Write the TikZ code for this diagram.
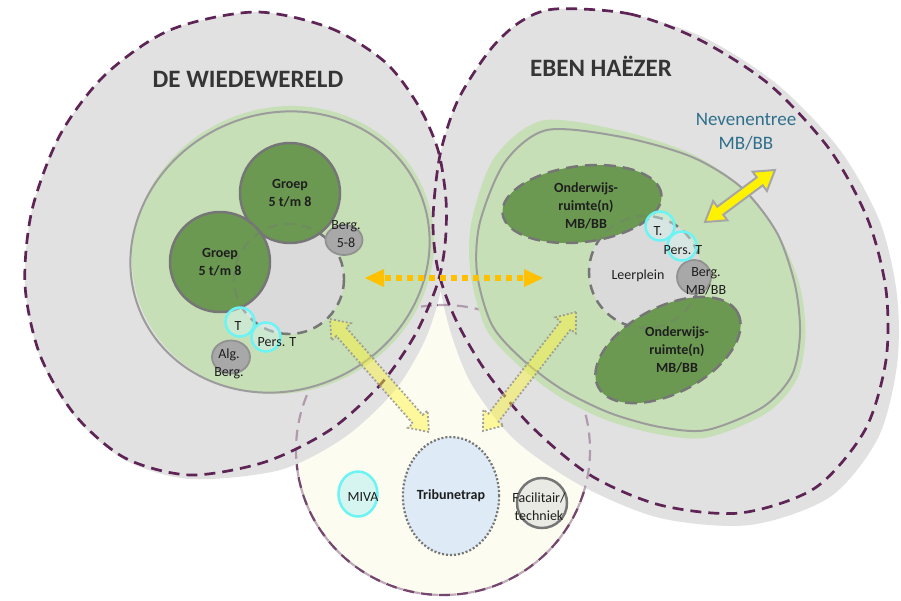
\documentclass[tikz,border=0pt]{standalone}
\usepackage{fontspec}
\setmainfont{Carlito}
\usetikzlibrary{shapes.geometric,calc}
\definecolor{purp}{HTML}{5D2455}
\definecolor{purpl}{HTML}{74466D}
\definecolor{greyfill}{HTML}{E1E1E1}
\definecolor{lgreen}{HTML}{C7DFB6}
\definecolor{dgreen}{HTML}{6B9952}
\definecolor{ringgrey}{HTML}{9C9C9C}
\definecolor{cream}{HTML}{FCFCF1}
\definecolor{cyanring}{HTML}{6CF4F4}
\definecolor{cyanfill}{HTML}{D6F5F0}
\definecolor{tealtxt}{HTML}{2F6F8C}
\definecolor{orangec}{HTML}{FFC000}
\definecolor{lblue}{HTML}{DEEAF6}
\definecolor{txt}{HTML}{1E1E1E}
\definecolor{lpgrey}{HTML}{DADADA}
\definecolor{berggrey}{HTML}{A8A8A8}
\definecolor{edgegrey}{HTML}{767676}
\tikzset{
  outerline/.style={draw=purp, line width=2.7pt, dash pattern=on 11pt off 7pt},
  sharedline/.style={draw=purpl, line width=2.2pt, dash pattern=on 11pt off 7pt},
  lpdash/.style={draw=edgegrey, line width=2.4pt, dash pattern=on 10pt off 7pt},
  groep/.style={circle, minimum size=100pt, fill=dgreen, draw=edgegrey, line width=2.5pt},
  onder/.style={ellipse, fill=dgreen, draw=edgegrey, line width=2.5pt, dash pattern=on 12pt off 7pt},
  bergc/.style={fill=berggrey, draw=edgegrey!80, line width=1.8pt},
  tcirc/.style={circle, minimum size=29pt, draw=cyanring, line width=2.5pt, fill=cyanfill, fill opacity=0.45},
  lbl/.style={font=\fontsize{14}{18}\selectfont, align=center, text=txt},
  blbl/.style={font=\bfseries\fontsize{14}{18}\selectfont, align=center, text=txt},
  title/.style={font=\bfseries\fontsize{25}{30}\selectfont, text=txt!90, anchor=base},
  fadearrow/.style={fill=yellow!80!white, fill opacity=0.45, draw=gray!80, draw opacity=0.9, line width=1.8pt, dash pattern=on 2pt off 2pt},
  nevarrow/.style={fill=yellow, draw=gray!70, line width=2pt, line join=miter},
}
\begin{document}
\begin{tikzpicture}[x=1pt,y=-1pt, every node/.style={inner sep=0pt}]
\useasboundingbox (0,0) rectangle (901,600);
\fill[white] (0,0) rectangle (901,600);

% shared bottom area
\node[ellipse, minimum width=294pt, minimum height=290pt, fill=cream, sharedline] (shared) at (443,450) {};

% grey fills of the two schools
\fill[greyfill] plot[smooth cycle] coordinates {(255,12) (330,28) (385,62) (418,105) (438,150) (446,200) (446,245) (441,290) (425,340) (395,390) (345,437) (280,470) (190,479) (125,460) (75,417) (40,357) (25,285) (32,210) (60,135) (105,75) (170,30)};
\fill[greyfill] plot[smooth cycle] coordinates {(555,9) (630,14) (705,38) (778,85) (840,150) (880,222) (897,295) (897,365) (878,438) (830,497) (750,525) (660,518) (580,485) (515,440) (472,385) (450,330) (438,275) (433,220) (440,155) (458,100) (490,50) (520,22)};
\draw[sharedline, opacity=0.45] (shared.center) ellipse (147 and 145);

% green areas
\draw[lgreen, fill=lgreen, line width=6pt, rotate around={25:(283,250)}] (283,250) ellipse (150 and 139);
\draw[ringgrey, line width=2pt, rotate around={25:(280,252)}] (280,252) ellipse (152 and 138);
\draw[lgreen, fill=lgreen, line width=7pt] plot[smooth cycle] coordinates {(543,124) (620,134) (690,157) (740,190) (775,235) (796,285) (802,333) (794,377) (765,410) (707,434) (660,431) (608,417) (560,393) (520,362) (489,327) (474,273) (475,222) (497,160)};
\draw[ringgrey, line width=2pt] plot[smooth cycle] coordinates {(547,130) (622,137) (692,157) (742,188) (777,233) (795,285) (800,333) (792,375) (763,407) (707,430) (660,427) (610,413) (563,390) (523,360) (492,325) (477,273) (480,222) (505,162)};

% outer dashed outlines
\draw[outerline] plot[smooth cycle] coordinates {(255,12) (330,28) (385,62) (418,105) (438,150) (446,200) (445,245) (437,285) (415,335) (380,385) (330,430) (265,462) (190,475) (125,458) (75,415) (40,355) (25,285) (32,210) (60,135) (105,75) (170,30)};
\draw[outerline] plot[smooth cycle] coordinates {(555,9) (630,14) (700,40) (770,85) (830,150) (868,220) (886,290) (886,360) (865,430) (815,488) (740,513) (660,505) (590,475) (530,425) (485,370) (455,318) (438,270) (433,220) (440,155) (458,100) (490,50) (520,22)};

% titles
\node[title] (tw) at (248,87) {DE WIEDEWERELD};
\node[title] (te) at (601,76) {EBEN HAËZER};

% ---- De Wiedewereld inner ----
\node[circle, minimum size=110pt, fill=lpgrey] (lpL) at (289,279) {};
\draw[lpdash] (lpL.center) circle (55);
\node[groep, blbl] (g1) at (290,193) {Groep\\5 t/m 8};
\node[groep, blbl] (g2) at (220,262) {Groep\\5 t/m 8};
\draw[lpdash, opacity=0.35] (lpL.center) circle (55);
\node[ellipse, bergc, minimum width=37pt, minimum height=30pt] (b58) at (344,240) {};
\node[lbl] (b58t) at (346,234) {Berg.\\5-8};
\node[tcirc] (tL) at (240,322) {};
\node[tcirc] (ptL) at (266,337) {};
\node[lbl] (tLt) at (238,326) {T};
\node[lbl] (ptLt) at (277,342) {Pers. T};
\node[ellipse, bergc, minimum width=38pt, minimum height=33pt] (alg) at (231,357) {};
\node[lbl] (algt) at (229,364) {Alg.\\Berg.};

% ---- Eben Haezer inner ----
\node[circle, minimum size=112pt, fill=lpgrey] (lpR) at (645,272) {};
\draw[lpdash] (lpR.center) circle (56);
\node[onder, minimum width=160pt, minimum height=76pt, rotate=7] (o1) at (582,204) {};
\node[onder, minimum width=158pt, minimum height=86pt, rotate=28] (o2) at (668,350) {};
\draw[lpdash, opacity=0.3] (lpR.center) circle (56);
\node[blbl] (o1t) at (586,206) {Onderwijs-\\ruimte(n)\\MB/BB};
\node[blbl] (o2t) at (677,350) {Onderwijs-\\ruimte(n)\\MB/BB};
\node[lbl] (lpRt) at (638,276) {Leerplein};
\node[circle, bergc, minimum size=34pt] (bmb) at (694,277) {};
\node[lbl] (bmbt) at (706,281) {Berg.\\MB/BB};
\node[tcirc] (tR) at (660,226) {};
\node[tcirc] (ptR) at (682,246) {};
\node[lbl] (tRt) at (658,231) {T.};
\node[lbl] (ptRt) at (683,250) {Pers. T};
\node[font=\fontsize{19}{24}\selectfont, align=center, text=tealtxt] (nev) at (746,132) {Nevenentree\\MB/BB};

% ---- shared area ----
\node[ellipse, minimum width=92pt, minimum height=118pt, fill=lblue, draw=edgegrey, line width=2.2pt, dash pattern=on 2pt off 2pt, blbl] (trib) at (451,496) {Tribunetrap};
\node[ellipse, minimum width=39pt, minimum height=45pt, draw=cyanring, line width=2.5pt, fill=cyanfill] (miva) at (358,494) {};
\node[lbl] (mivat) at (363,497) {MIVA};
\node[circle, minimum size=50pt, draw=edgegrey, line width=2.5pt, fill=lpgrey, fill opacity=0.5] (fac) at (542,503) {};
\node[lbl] (fact) at (539,507) {Facilitair/\\techniek};

% ---- arrows ----
\coordinate (oa1) at (365,278);
\coordinate (oa2) at (543,278);
\draw[orangec, line width=6.5pt, dash pattern=on 5.5pt off 5.5pt] ($(oa1)+(20,0)$) -- ($(oa2)+(-20,0)$);
\fill[orangec] (oa1) -- ++(19,-9) -- ++(0,18) -- cycle;
\fill[orangec] (oa2) -- ++(-19,-9) -- ++(0,18) -- cycle;

\coordinate (na1) at (705,222);
\begin{scope}[shift={(na1)}, rotate=36.6]
  \draw[nevarrow] (0,0) -- (19,-12) -- (19,-5) -- (68.2,-5) -- (68.2,-12) -- (87.2,0) -- (68.2,12) -- (68.2,5) -- (19,5) -- (19,12) -- cycle;
\end{scope}

\coordinate (fa1) at (330,319);
\begin{scope}[shift={(fa1)}, rotate=-48.8]
  \draw[fadearrow] (0,0) -- (17,-13) -- (17,-6.5) -- (133.2,-6.5) -- (133.2,-13) -- (150.2,0) -- (133.2,13) -- (133.2,6.5) -- (17,6.5) -- (17,13) -- cycle;
\end{scope}
\coordinate (fb1) at (576,312);
\begin{scope}[shift={(fb1)}, rotate=-128]
  \draw[fadearrow] (0,0) -- (17,-13) -- (17,-6.5) -- (134,-6.5) -- (134,-13) -- (151,0) -- (134,13) -- (134,6.5) -- (17,6.5) -- (17,13) -- cycle;
\end{scope}
\end{tikzpicture}
\end{document}
